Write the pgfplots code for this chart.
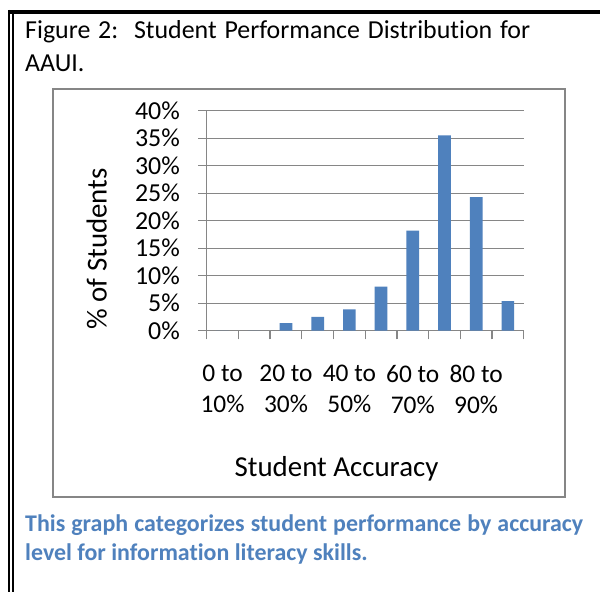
\documentclass[border=0pt]{standalone}
\usepackage{fontspec}
\setmainfont{Carlito}[Ligatures={NoCommon}]
\usepackage{pgfplots}
\pgfplotsset{compat=1.18}
\definecolor{barblue}{HTML}{4F81BD}
\definecolor{gridgray}{HTML}{868686}
\begin{document}
\begin{tikzpicture}[x=1bp,y=1bp]
\useasboundingbox (0,0) rectangle (600,-592);
\fill[white] (0,0) rectangle (600,-592);
% outer frame
\draw[line width=4bp] (8,-12) -- (600,-12);
\draw[line width=1.6bp] (9.2,-10) -- (9.2,-592);
\draw[line width=1.6bp] (12.8,-12) -- (12.8,-592);
% title
\node[anchor=base west, inner sep=0pt, font=\fontsize{26}{31}\selectfont] at (25,-39)
  {\makebox[505bp][s]{Figure 2:\ \ Student Performance Distribution for}};
\node[anchor=base west, inner sep=0pt, font=\fontsize{26}{31}\selectfont] at (25,-71.7) {AAUI.};
% inner chart box
\draw[gridgray, line width=1.5bp] (53,-89) rectangle (565,-497);
\begin{axis}[
  at={(206.7bp,-330.7bp)}, anchor=south west,
  scale only axis, width=317bp, height=220bp,
  xmin=-0.5, xmax=9.5, ymin=0, ymax=40,
  axis x line*=bottom, axis y line*=left,
  axis line style={gridgray, line width=1.3bp, -},
  ytick={0,5,10,15,20,25,30,35,40},
  yticklabels={0\%,5\%,10\%,15\%,20\%,25\%,30\%,35\%,40\%},
  ymajorgrids,
  major grid style={gridgray, line width=1.3bp},
  tick style={gridgray, line width=1.3bp},
  tick align=outside,
  major tick length=8.7bp,
  xtick={-0.5,0.5,1.5,2.5,3.5,4.5,5.5,6.5,7.5,8.5,9.5},
  xticklabels={},
  extra x ticks={0,2,4,6,8},
  extra x tick labels={{0 to\\10\%},{20 to\\30\%},{40 to\\50\%},{60 to\\70\%},{80 to\\90\%}},
  extra x tick style={major tick length=0pt, xmajorgrids=false,
     tick label style={anchor=north, inner sep=0pt, yshift=-34bp, align=center,
       font=\fontsize{25.5}{31.7}\selectfont}},
  yticklabel style={anchor=east, inner sep=0pt, xshift=-18bp, font=\fontsize{26}{31}\selectfont},
  /pgf/number format/assume math mode=true,
  clip=false,
]
\addplot[ybar, bar width=12.7bp, bar shift=0pt, fill=barblue, draw=none]
  coordinates {(0,0) (1,0) (2,1.4) (3,2.5) (4,3.9) (5,8.0) (6,18.2) (7,35.5) (8,24.3) (9,5.4)};
\end{axis}
% axis titles
\node[anchor=base, inner sep=0pt, font=\fontsize{29}{35}\selectfont] at (336.5,-476.7) {Student Accuracy};
\node[anchor=base, rotate=90, inner sep=0pt, font=\fontsize{29}{35}\selectfont] at (106.7,-249) {\% of Students};
% caption
\node[anchor=base west, inner sep=0pt, text=barblue, font=\fontsize{24}{29}\selectfont\bfseries] at (25,-531.7)
  {\makebox[558bp][s]{This graph categorizes student performance by accuracy}};
\node[anchor=base west, inner sep=0pt, text=barblue, font=\fontsize{24}{29}\selectfont\bfseries] at (25,-560)
  {level for information literacy skills.};
\end{tikzpicture}
\end{document}
